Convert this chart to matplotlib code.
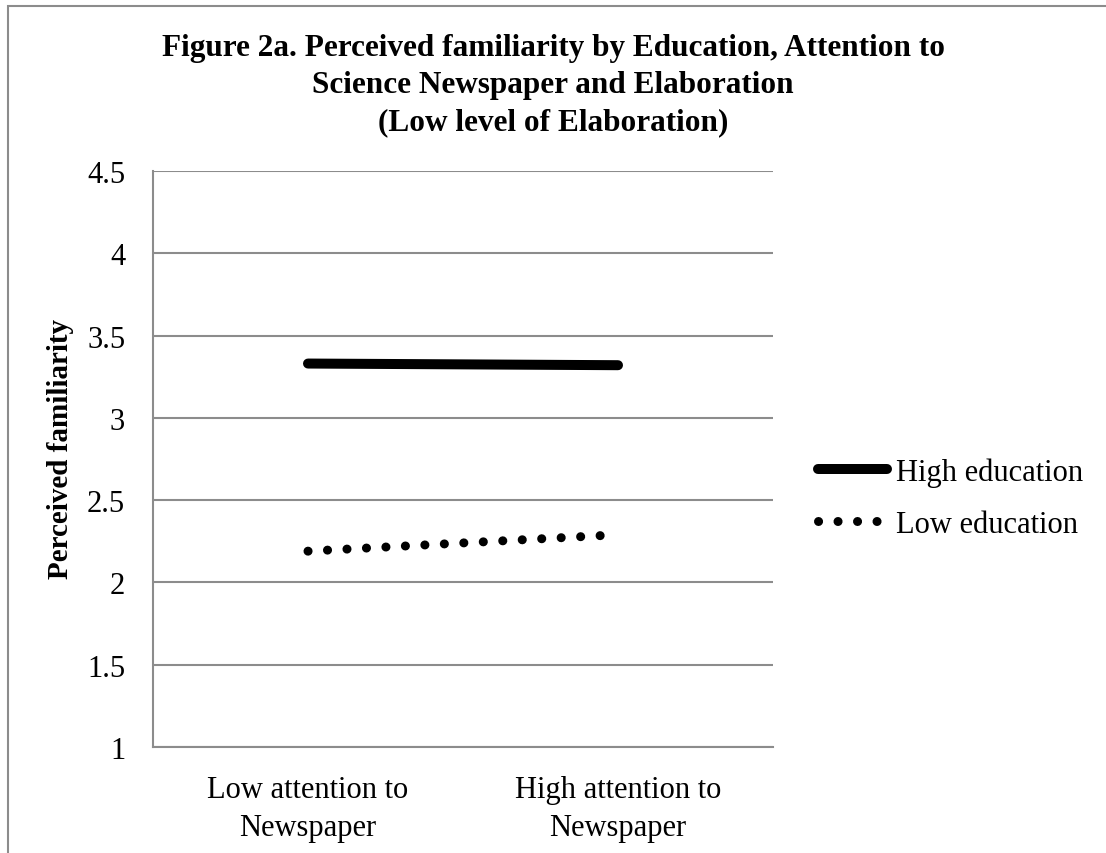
import matplotlib.pyplot as plt
from matplotlib.patches import Rectangle

categories = ["Low attention to\nNewspaper", "High attention to\nNewspaper"]
high_education = [3.33, 3.32]
low_education = [2.19, 2.29]
y_ticks = [1, 1.5, 2, 2.5, 3, 3.5, 4, 4.5]
y_tick_labels = ["1", "1.5", "2", "2.5", "3", "3.5", "4", "4.5"]
title_lines = ["Figure 2a. Perceived familiarity by Education, Attention to",
               "Science Newspaper and Elaboration",
               "(Low level of Elaboration)"]

plt.rcParams['font.family'] = ['Liberation Serif', 'DejaVu Serif']

W, H = 1106, 854
fig = plt.figure(figsize=(W / 100, H / 100), dpi=100)
ax = fig.add_axes([153 / W, 1 - 748 / H, 620 / W, 576 / H])

x = list(range(len(categories)))
ax.plot(x, high_education, color='black', linewidth=7.2,
        solid_capstyle='round', label='High education')
ax.plot(x, low_education, color='black', linewidth=6.5,
        linestyle=(0, (0.01, 2.15)), dash_capstyle='round',
        label='Low education')

ax.set_xlim(-0.5, 1.5)
ax.set_ylim(1, 4.5)
ax.set_yticks(y_ticks)
ax.set_yticklabels(y_tick_labels, fontsize=22)
ax.set_xticks(x)
ax.set_xticklabels(categories, fontsize=22, linespacing=1.4)
ax.tick_params(length=0)
ax.tick_params(axis='x', pad=20)
ax.tick_params(axis='y', pad=20)
ax.grid(axis='y', color='#8c8c8c', linewidth=1.5)
ax.set_axisbelow(True)
for side in ['top', 'right']:
    ax.spines[side].set_visible(False)
for side in ['left', 'bottom']:
    ax.spines[side].set_color('#8c8c8c')
    ax.spines[side].set_linewidth(1.5)

ax.set_ylabel('Perceived familiarity', fontsize=21, fontweight='bold')
ax.yaxis.set_label_coords((61 - 153) / 620, (748 - 449) / 576)
ax.yaxis.label.set_va('center')

# title, one text per line (baselines)
for line, base in zip(title_lines, [56, 93, 130]):
    fig.text(0.5, 1 - base / H, line, ha='center', va='baseline',
             fontsize=22.5, fontweight='bold')

fig.legend(loc='center left', bbox_to_anchor=(818 / W, 1 - 499 / H),
           frameon=False, fontsize=22, handlelength=2.25, handletextpad=0.3,
           labelspacing=0.75, borderpad=0, borderaxespad=0)

# outer chart border (right and bottom cut off in the original)
fig.patches.append(Rectangle((8 / W, -0.1), 1.2, 1.1 - 7 / H,
                             transform=fig.transFigure, fill=False,
                             edgecolor='#8c8c8c', linewidth=1.5))

fig.savefig('out.png', dpi=100)
